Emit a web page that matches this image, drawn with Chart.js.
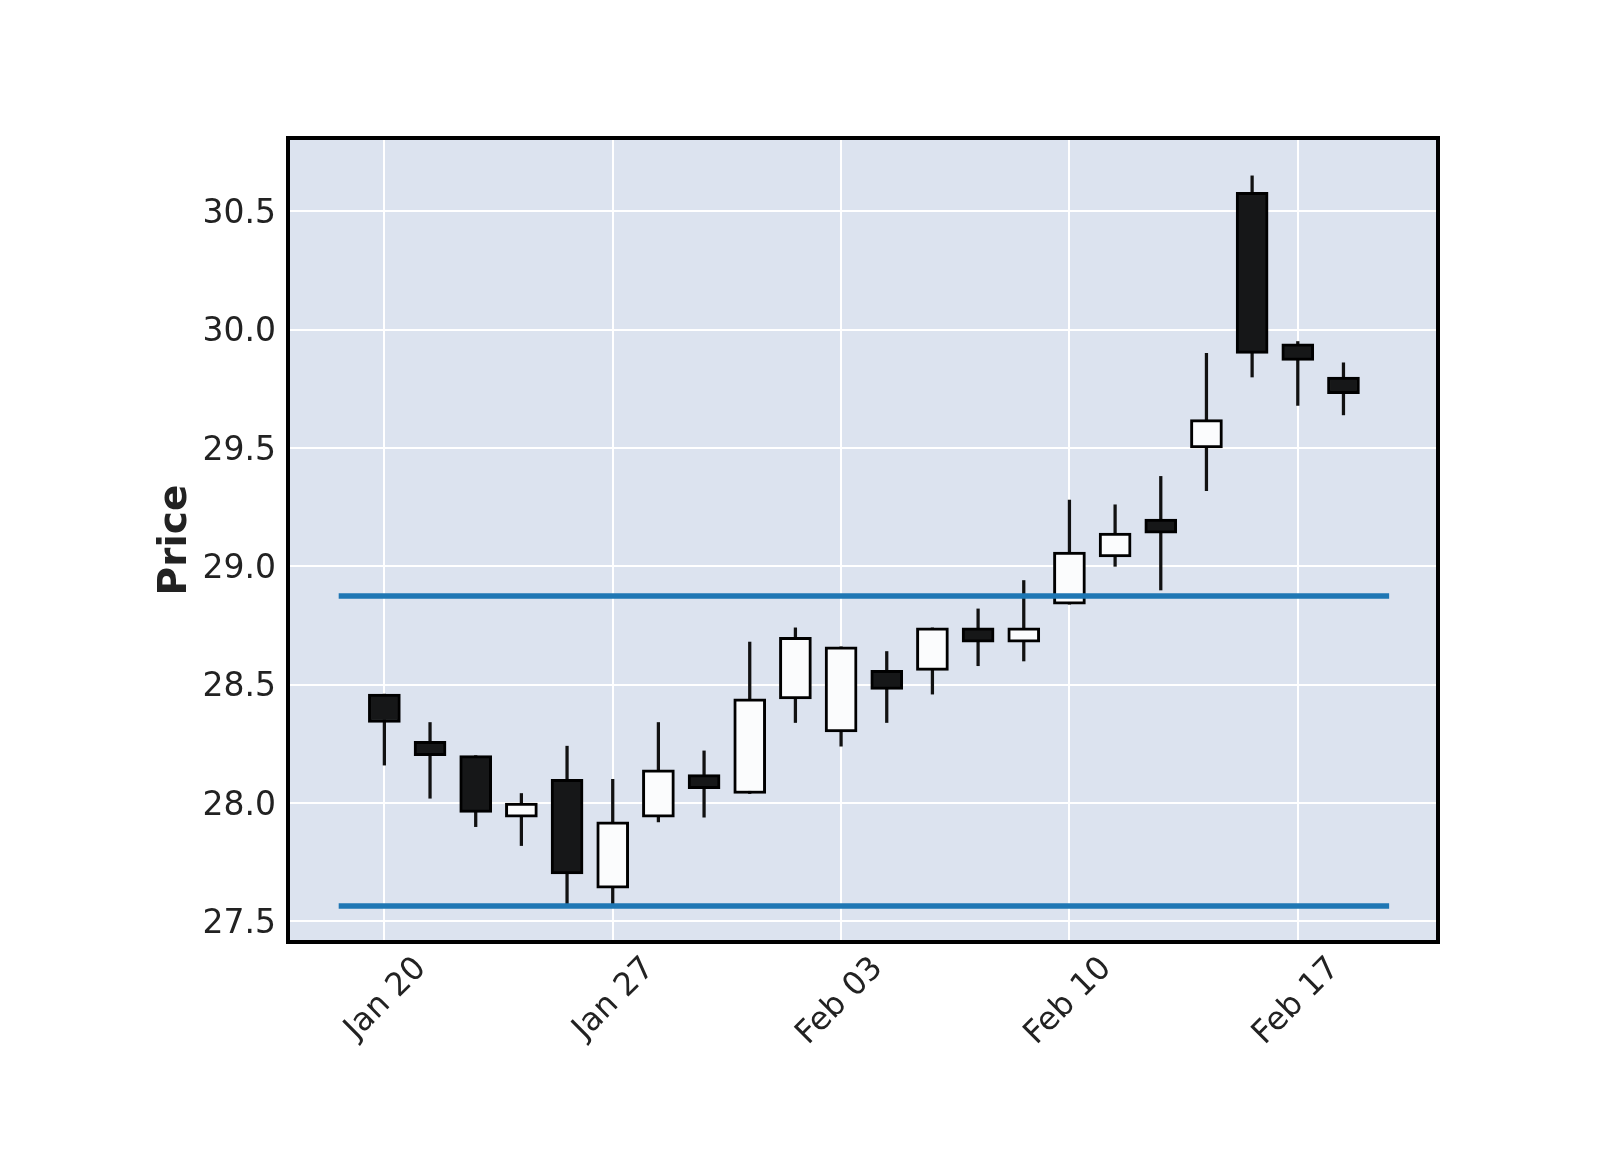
<!DOCTYPE html>
<html>
<head>
<meta charset="utf-8">
<script src="https://cdn.jsdelivr.net/npm/chart.js@4.4.1/dist/chart.umd.min.js"></script>
<style>
  body { margin: 0; background: #ffffff; }
  #wrap { width: 1600px; height: 1150px; position: relative; }
</style>
</head>
<body>
<div id="wrap"><canvas id="grafico"></canvas></div>
<script>
// dias de negociação (só alguns aparecem como rótulo)
const dates = ['Jan 20', 'Jan 21', 'Jan 22', 'Jan 23', 'Jan 24',
               'Jan 27', 'Jan 28', 'Jan 29', 'Jan 30', 'Jan 31',
               'Feb 03', 'Feb 04', 'Feb 05', 'Feb 06', 'Feb 07',
               'Feb 10', 'Feb 11', 'Feb 12', 'Feb 13', 'Feb 14',
               'Feb 17', 'Feb 18'];

const opens  = [28.46, 28.26, 28.20, 27.94, 28.10, 27.64, 27.94, 28.12, 28.04, 28.44, 28.30,
                28.56, 28.56, 28.74, 28.68, 28.84, 29.04, 29.20, 29.50, 30.58, 29.94, 29.80];
const highs  = [28.46, 28.34, 28.20, 28.04, 28.24, 28.10, 28.34, 28.22, 28.68, 28.74, 28.66,
                28.64, 28.74, 28.82, 28.94, 29.28, 29.26, 29.38, 29.90, 30.65, 29.95, 29.86];
const lows   = [28.16, 28.02, 27.90, 27.82, 27.56, 27.56, 27.92, 27.94, 28.04, 28.34, 28.24,
                28.34, 28.46, 28.58, 28.60, 28.84, 29.00, 28.90, 29.32, 29.80, 29.68, 29.64];
const closes = [28.34, 28.20, 27.96, 28.00, 27.70, 27.92, 28.14, 28.06, 28.44, 28.70, 28.66,
                28.48, 28.74, 28.68, 28.74, 29.06, 29.14, 29.14, 29.62, 29.90, 29.87, 29.73];

// linhas horizontais (níveis) e o trecho do eixo x que cobrem
const hlineValues = [28.875, 27.565];
const hlineSpan = [-1, 22];

const xTickIdx = [0, 5, 10, 15, 20];
const yTicks = [27.5, 28.0, 28.5, 29.0, 29.5, 30.0, 30.5];

const upColor = '#fbfcfd';
const downColor = '#161718';

Chart.defaults.font.family = "'DejaVu Sans', sans-serif";
Chart.defaults.color = '#222222';

// fundo da área do gráfico + moldura
const moldura = {
    id: 'moldura',
    beforeDraw(chart) {
        const a = chart.chartArea;
        const ctx = chart.ctx;
        ctx.save();
        ctx.fillStyle = '#dce3ef';
        ctx.fillRect(a.left, a.top, a.right - a.left, a.bottom - a.top);
        ctx.restore();
    },
    afterDraw(chart) {
        const a = chart.chartArea;
        const ctx = chart.ctx;
        ctx.save();
        ctx.strokeStyle = '#000000';
        ctx.lineWidth = 4;
        ctx.strokeRect(a.left, a.top, a.right - a.left, a.bottom - a.top);
        ctx.restore();
    }
};

const corpos = dates.map((d, i) => ({ x: i, y: [opens[i], closes[i]] }));
const pavios = dates.map((d, i) => ({ x: i, y: [lows[i], highs[i]] }));
const cores = dates.map((d, i) => closes[i] >= opens[i] ? upColor : downColor);

const datasets = [];
hlineValues.forEach(v => {
    datasets.push({
        type: 'line',
        data: hlineSpan.map(x => ({ x: x, y: v })),
        borderColor: '#1f77b4',
        borderWidth: 5.5,
        borderCapStyle: 'butt',
        pointRadius: 0,
        order: 0
    });
});
datasets.push({
    type: 'bar',
    data: corpos,
    backgroundColor: cores,
    borderColor: '#000000',
    borderWidth: 3,
    borderSkipped: false,
    barThickness: 32,
    grouped: false,
    order: 1
});
datasets.push({
    type: 'bar',
    data: pavios,
    backgroundColor: '#111111',
    borderWidth: 0,
    barThickness: 2.6,
    grouped: false,
    order: 2
});

new Chart(document.getElementById('grafico'), {
    type: 'bar',
    data: { datasets: datasets },
    options: {
        responsive: true,
        maintainAspectRatio: false,
        devicePixelRatio: 1,
        animation: false,
        layout: { padding: { left: 0, right: 162, top: 138, bottom: 0 } },
        plugins: { legend: { display: false }, tooltip: { enabled: false } },
        scales: {
            x: {
                type: 'linear',
                offset: false,
                min: -2.11,
                max: 23.07,
                afterBuildTicks: axis => { axis.ticks = xTickIdx.map(v => ({ value: v })); },
                afterFit: axis => { axis.height = 208; },
                grid: { color: '#ffffff', lineWidth: 2, drawTicks: false, offset: false },
                border: { display: false },
                ticks: {
                    autoSkip: false,
                    minRotation: 45,
                    maxRotation: 45,
                    padding: 8,
                    labelOffset: 37,
                    font: { size: 32 },
                    callback: v => dates[v]
                }
            },
            y: {
                min: 27.4125,
                max: 30.81,
                afterBuildTicks: axis => { axis.ticks = yTicks.map(v => ({ value: v })); },
                afterFit: axis => { axis.width = 288; },
                grid: { color: '#ffffff', lineWidth: 2, drawTicks: false },
                border: { display: false },
                ticks: {
                    padding: 12,
                    labelOffset: 3,
                    font: { size: 33 },
                    callback: v => v.toFixed(1)
                },
                title: {
                    display: true,
                    text: 'Price',
                    font: { size: 39, weight: 'bold' },
                    padding: { top: 152, bottom: 0 }
                }
            }
        }
    },
    plugins: [moldura]
});
</script>
</body>
</html>
